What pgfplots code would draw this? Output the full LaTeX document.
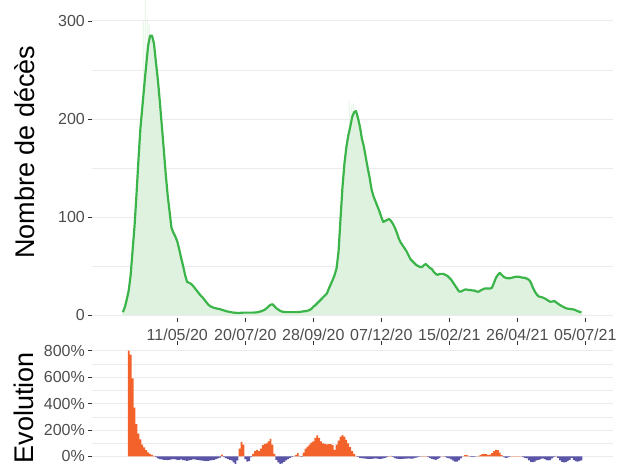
\documentclass[border=0pt]{standalone}
\usepackage{fontspec}
\setmainfont{Liberation Sans}
\usepackage{pgfplots}
\usepackage{pgfplotstable}
\pgfplotsset{compat=1.18}
\definecolor{linegreen}{HTML}{3BB54A}
\definecolor{barfill}{HTML}{DFF2E0}
\definecolor{posorange}{HTML}{F2622A}
\definecolor{negpurple}{HTML}{5B55A8}
\definecolor{gridc}{HTML}{EBEBEB}
\definecolor{ticktext}{HTML}{4D4D4D}
\definecolor{tickc}{HTML}{333333}

% days relative to 11/05/2020, 7-day smoothed deaths
\pgfplotstableread{
d v
-56 3
-54 8
-52 16
-50 25
-48 41
-46 66
-44 91
-42 123
-40 158
-38 190
-36 212
-34 234
-32 255
-30 275
-28 285
-26 285
-24 277
-22 258
-20 240
-18 218
-16 194
-14 170
-12 145
-10 123
-8 106
-6 89
-4 84
-2 80
0 75
2 67
4 58
6 50
8 41
10 34
12 33
14 32
16 30
18 27.5
20 25
22 22.5
24 20
26 18
28 15.5
30 13
32 10.5
34 9
36 8
38 7.3
40 6.8
42 6.4
44 6
46 5.3
48 4.7
50 4
52 3.6
54 3.2
56 2.8
58 2.5
60 2.3
62 2.2
64 2.2
66 2.3
68 2.5
70 2.5
72 2.5
74 2.5
76 2.5
78 2.5
80 2.6
82 2.8
84 3.2
86 3.8
88 4.5
90 5.5
92 7
94 9
96 10.5
98 11
100 9
102 7
104 5.5
106 4.3
108 3.5
110 3.2
112 3
114 3
116 3
118 3
120 3
122 3
124 3
126 3.2
128 3.5
130 3.8
132 4
134 4.5
136 5
138 6.3
140 8.5
142 10
144 12
146 14
148 16
150 18
152 20
154 22
156 27
158 31.5
160 36
162 41
164 48
166 65
168 98
170 130
172 154
174 171
176 183
178 192
180 202
182 207
184 208
186 201
188 192
190 180
192 172
194 161
196 150
198 140
200 128
202 121
204 116
206 111
208 106
210 100
212 95
214 96
216 97
218 98
220 96
222 93
224 89
226 84
228 78
230 74
232 71
234 68
236 65
238 61
240 57
242 55
244 53
246 51
248 50
250 49
252 49
254 51
256 52
258 50
260 48
262 47
264 44
266 42
268 41
270 42
272 42
274 42
276 41
278 40
280 38
282 36
284 33
286 30
288 27
290 24
292 24
294 25
296 26
298 26
300 25.5
302 25.5
304 25
306 25
308 24
310 23.8
312 25
314 26
316 27
318 27
320 27
322 27
324 28
326 33
328 38
330 41
332 43
334 41
336 39
338 38
340 37.5
342 37.5
344 38
346 38.5
348 39
350 39
352 39
354 38.5
356 38
358 38
360 37
362 36
364 33
366 28
368 24
370 21
372 19
374 18.5
376 18
378 17
380 16
382 14.5
384 13.6
386 13.8
388 14.3
390 13
392 11.5
394 10.2
396 9
398 8
400 7
402 6.5
404 6.3
406 6
408 5.7
410 5
412 4
414 3.3
416 2.7
}\linetab

\pgfplotstableread{
d v
-35 300
-33 330
-31 302
-29 296
177 218
179 214
181 216
183 212
}\spiketab

% 7-day evolution in percent
\pgfplotstableread{
d v
-50 800
-48 770
-46 590
-44 370
-42 245
-40 172
-38 130
-36 90
-34 68
-32 48
-30 32
-28 20
-26 12
-24 5
-22 -5
-20 -15
-18 -20
-16 -22
-14 -25
-12 -25
-10 -27
-8 -25
-6 -22
-4 -20
-2 -22
0 -25
2 -25
4 -22
6 -27
8 -30
10 -33
12 -30
14 -25
16 -22
18 -22
20 -25
22 -28
24 -30
26 -32
28 -33
30 -35
32 -33
34 -30
36 -28
38 -25
40 -20
42 -15
44 -8
46 15
48 -5
50 -12
52 -18
54 -25
56 -30
58 -45
60 -55
62 -30
64 60
66 110
68 90
70 -20
72 -38
74 -35
76 -5
78 20
80 40
82 50
84 40
86 60
88 85
90 95
92 100
94 115
96 133
98 90
100 20
102 -25
104 -45
106 -55
108 -52
110 -40
112 -30
114 -20
116 -10
118 -5
120 0
122 10
124 25
126 5
128 -3
130 30
132 60
134 75
136 90
138 105
140 115
142 140
144 160
146 140
148 115
150 100
152 95
154 92
156 93
158 93
160 85
162 50
164 90
166 120
168 150
170 162
172 150
174 125
176 100
178 70
180 40
182 20
184 5
186 -3
188 -10
190 -13
192 -15
194 -17
196 -18
198 -18
200 -18
202 -17
204 -15
206 -16
208 -18
210 -18
212 -15
214 -10
216 -5
218 3
220 5
222 -5
224 -12
226 -16
228 -18
230 -18
232 -18
234 -17
236 -16
238 -15
240 -16
242 -17
244 -13
246 -8
248 -5
250 -2
252 2
254 4
256 3
258 -3
260 -10
262 -18
264 -22
266 -25
268 -20
270 -10
272 0
274 2
276 -3
278 -10
280 -15
282 -22
284 -32
286 -38
288 -38
290 -30
292 -15
294 0
296 10
298 13
300 5
302 -3
304 -5
306 -3
308 0
310 5
312 10
314 18
316 20
318 18
320 12
322 15
324 25
326 40
328 50
330 48
332 30
334 10
336 -5
338 -10
340 -8
342 -3
344 2
346 3
348 2
350 3
352 2
354 0
356 -5
358 -10
360 -15
362 -30
364 -40
366 -43
368 -38
370 -30
372 -25
374 -20
376 -15
378 -20
380 -28
382 -30
384 -28
386 -15
388 -5
390 5
392 -10
394 -30
396 -40
398 -45
400 -43
402 -35
404 -25
406 -10
408 -25
410 -35
412 -38
414 -35
416 -30
}\evotab

\begin{document}
\begin{tikzpicture}
\path[use as bounding box] (0,0) rectangle (622bp,-466bp);
\pgfplotsset{
  common/.style={
    scale only axis,
    width=521bp,
    xmin=-87.8, xmax=448.5,
    axis line style={draw=none},
    tick align=outside,
    major tick length=4bp,
    minor tick length=0pt,
    tick style={color=tickc, line width=0.6bp},
    ymajorgrids, yminorgrids,
    major grid style={color=gridc, line width=1bp},
    minor grid style={color=gridc, line width=0.5bp},
    xtick={0,70,140,210,280,350,420},
    ticklabel style={font=\fontsize{16bp}{19bp}\selectfont, text=ticktext},
    yticklabel style={inner sep=3pt},
    ylabel style={font=\fontsize{27bp}{30bp}\selectfont, anchor=center},
  }
}
\begin{axis}[common,
  at={(92bp,0bp)}, anchor=north west,
  height=318bp,
  ymin=-3, ymax=321.4,
  axis x line*=bottom, axis y line*=left,
  ytick={0,100,200,300},
  yticklabels={0,100,200,300},
  minor ytick={50,150,250},
  xticklabels={11/05/20,20/07/20,28/09/20,07/12/20,15/02/21,26/04/21,05/07/21},
  xticklabel style={yshift=-3.5bp},
  ylabel={Nombre de décès},
  ylabel style={at={(axis description cs:-0.1286,0.522)}},
]
\addplot[ybar, bar width=1.75, bar shift=0pt, fill=barfill, draw=none] table[x=d,y=v] {\linetab};
\addplot[ybar, bar width=0.8, bar shift=0pt, fill=barfill, draw=none] table[x=d,y=v] {\spiketab};
\addplot[linegreen, line width=2.2bp, line join=round, no marks] table[x=d,y=v] {\linetab};
\end{axis}

\begin{axis}[common,
  at={(92bp,-345bp)}, anchor=north west,
  height=121bp,
  ymin=-72, ymax=843,
  axis x line*=top, axis y line*=left,
  xticklabels={},
  ytick={0,200,400,600,800},
  yticklabels={0\%,200\%,400\%,600\%,800\%},
  minor ytick={100,300,500,700},
  ylabel={Evolution},
  ylabel style={at={(axis description cs:-0.13,0.482)}},
]
\addplot[ybar, bar width=1.85, bar shift=0pt, fill=posorange, draw=none, restrict y to domain=0:2000] table[x=d,y=v] {\evotab};
\addplot[ybar, bar width=1.85, bar shift=0pt, fill=negpurple, draw=none, restrict y to domain=-2000:0] table[x=d,y=v] {\evotab};
\end{axis}
\end{tikzpicture}
\end{document}
